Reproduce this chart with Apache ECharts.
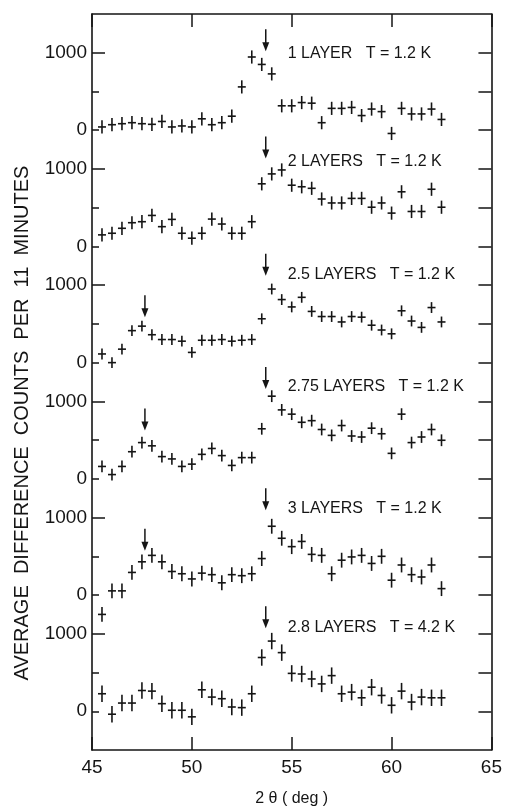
<!DOCTYPE html>
<html><head><meta charset="utf-8">
<script src="https://cdn.jsdelivr.net/npm/echarts@6/dist/echarts.min.js"></script>
<style>html,body{margin:0;padding:0;background:#fff}#c{width:505px;height:812px}</style>
</head><body><div id="c"></div>
<script>
// 2θ positions of the measured points (deg)
const twoTheta = [45.5,46.0,46.5,47.0,47.5,48.0,48.5,49.0,49.5,50.0,50.5,51.0,51.5,52.0,52.5,53.0,53.5,54.0,54.5,55.0,55.5,56.0,56.5,57.0,57.5,58.0,58.5,59.0,59.5,60.0,60.5,61.0,61.5,62.0,62.5];

// Average difference counts per 11 minutes, one array per curve (top to bottom)
const layer1   = [42,71,84,97,84,76,113,42,55,42,147,71,97,181,559,945,849,727,315,315,357,349,97,282,282,294,189,273,240,-42,282,210,210,273,139];
const layer2   = [149,170,234,306,319,400,255,349,170,106,170,353,289,170,170,319,808,936,987,790,770,750,612,561,561,620,620,506,561,430,705,451,451,738,506];
const layer25  = [112,0,174,413,471,360,298,298,277,132,289,289,298,277,289,298,566,950,814,719,843,661,595,595,525,595,587,483,421,372,669,537,455,711,525];
const layer275 = [160,55,160,350,468,426,287,257,160,190,316,392,300,173,274,274,646,1067,890,835,730,751,637,561,688,553,540,654,582,329,835,468,540,637,498];
const layer3   = [-250,54,54,292,429,512,429,304,275,208,283,263,158,263,250,275,471,888,733,625,692,525,512,275,450,492,512,408,500,192,388,263,233,388,83];
const layer28  = [226,-38,106,106,268,260,98,13,13,-72,277,183,162,55,47,226,694,906,757,489,481,417,353,460,226,247,174,311,204,77,260,119,183,174,174];

// approximate error (± counts) per curve
const errors = [85,85,70,76,96,106];

const curveLabels = ['1 LAYER   T = 1.2 K','2 LAYERS   T = 1.2 K','2.5 LAYERS   T = 1.2 K','2.75 LAYERS   T = 1.2 K','3 LAYERS   T = 1.2 K','2.8 LAYERS   T = 4.2 K'];

// arrows marking peak positions: [curve index, 2θ, counts at tip]
const peakArrows = [[0,53.7,1020],[1,53.7,1134],[2,53.7,1121],[2,47.65,586],[3,53.7,1159],[3,47.65,624],[4,53.7,1096],[4,47.65,573],[5,53.7,1070]];

const yTickLabels = ['0','1000'];
const xTicks = [45,50,55,60,65];

// ---- layout ----
const curves = [layer1, layer2, layer25, layer275, layer3, layer28];
const panelStep = 1500;
const offsets = curves.map((_, k) => (curves.length - 1 - k) * panelStep);
const ink = '#151515';

const labelVals = [], longTicks = [], shortTicks = [], allTicks = [];
offsets.forEach(o => {
  labelVals.push(o, o + 1000);
  longTicks.push(o + 1000);
  shortTicks.push(o, o + 500);
  allTicks.push(o, o + 500, o + 1000);
});

function crossRender(params, api) {
  const x = api.value(0), y = api.value(1), e = api.value(2);
  const c = api.coord([x, y]);
  const t = api.coord([x, y + e]);
  const b = api.coord([x, y - e]);
  const st = {stroke: ink, lineWidth: 1.6};
  return {type: 'group', children: [
    {type: 'line', shape: {x1: c[0], y1: t[1], x2: c[0], y2: b[1]}, style: st},
    {type: 'line', shape: {x1: c[0] - 4, y1: c[1], x2: c[0] + 4, y2: c[1]}, style: st}
  ]};
}
function arrowRender(params, api) {
  const x = api.value(0), tip = api.value(1);
  const p = api.coord([x, tip]);
  const len = 22, head = 9, hw = 3.5;
  return {type: 'group', children: [
    {type: 'line', shape: {x1: p[0], y1: p[1] - len, x2: p[0], y2: p[1] - head + 1}, style: {stroke: ink, lineWidth: 1.5}},
    {type: 'polygon', shape: {points: [[p[0] - hw, p[1] - head], [p[0] + hw, p[1] - head], [p[0], p[1]]]}, style: {fill: ink}}
  ]};
}
function textRender(params, api) {
  const p = api.coord([api.value(0), api.value(1)]);
  return {type: 'text', x: p[0], y: p[1], style: {
    text: curveLabels[params.dataIndex], fill: ink, font: '16px "Liberation Sans"', align: 'left', verticalAlign: 'middle'}};
}

const series = curves.map((vals, k) => ({
  type: 'custom', renderItem: crossRender, xAxisIndex: 0, yAxisIndex: 0,
  data: vals.map((v, i) => [twoTheta[i], v + offsets[k], errors[k]]), silent: true
}));
const labelLevels = [990, 1100, 1134, 1193, 1111, 1081];
series.push({type: 'custom', renderItem: arrowRender, silent: true,
  data: peakArrows.map(a => [a[1], a[2] + offsets[a[0]]])});
series.push({type: 'custom', renderItem: textRender, silent: true,
  data: curves.map((_, k) => [54.8, labelLevels[k] + offsets[k]])});

const axLine = {show: true, onZero: false, lineStyle: {color: ink, width: 1.6}};
const font = '"Liberation Sans", Arial, sans-serif';
const chart = echarts.init(document.getElementById('c'), null, {renderer: 'canvas'});
chart.setOption({
  animation: false,
  backgroundColor: '#fff',
  grid: {left: 92, right: 13, top: 14, bottom: 53, containLabel: false},
  xAxis: [
    {type: 'value', min: 45, max: 65, interval: 5, position: 'bottom',
     axisLine: axLine, splitLine: {show: false},
     axisTick: {inside: true, length: 13, lineStyle: {color: ink, width: 1.5}},
     axisLabel: {color: ink, fontSize: 19, fontFamily: font, margin: 8,
       customValues: xTicks, formatter: v => String(v)},
     name: '2 θ ( deg )', nameLocation: 'middle', nameGap: 41,
     nameTextStyle: {color: ink, fontSize: 16, fontFamily: font}},
    {type: 'value', min: 45, max: 65, interval: 5, position: 'top',
     axisLine: axLine, splitLine: {show: false},
     axisTick: {inside: true, length: 13, lineStyle: {color: ink, width: 1.5}},
     axisLabel: {show: false}}
  ],
  yAxis: [
    {type: 'value', min: -500, max: 9000, position: 'left',
     axisLine: axLine, splitLine: {show: false},
     axisTick: {inside: true, length: 13, customValues: longTicks, lineStyle: {color: ink, width: 1.5}},
     axisLabel: {color: ink, fontSize: 19, fontFamily: font, margin: 5, customValues: labelVals,
       formatter: v => yTickLabels[(((v % panelStep) + panelStep) % panelStep) === 0 ? 0 : 1]}},
    {type: 'value', min: -500, max: 9000, position: 'left',
     axisLine: {show: false}, splitLine: {show: false},
     axisTick: {inside: true, length: 7, customValues: shortTicks, lineStyle: {color: ink, width: 1.5}},
     axisLabel: {show: false}},
    {type: 'value', min: -500, max: 9000, position: 'right',
     axisLine: axLine, splitLine: {show: false},
     axisTick: {inside: true, length: 13, customValues: allTicks, lineStyle: {color: ink, width: 1.5}},
     axisLabel: {show: false}}
  ],
  graphic: [{
    type: 'text', x: 22, y: 423, rotation: Math.PI / 2,
    style: {text: 'AVERAGE  DIFFERENCE  COUNTS  PER  11  MINUTES', fill: ink,
      font: '20px "Liberation Sans"', align: 'center', verticalAlign: 'middle'}
  }],
  series: series
});
</script></body></html>
